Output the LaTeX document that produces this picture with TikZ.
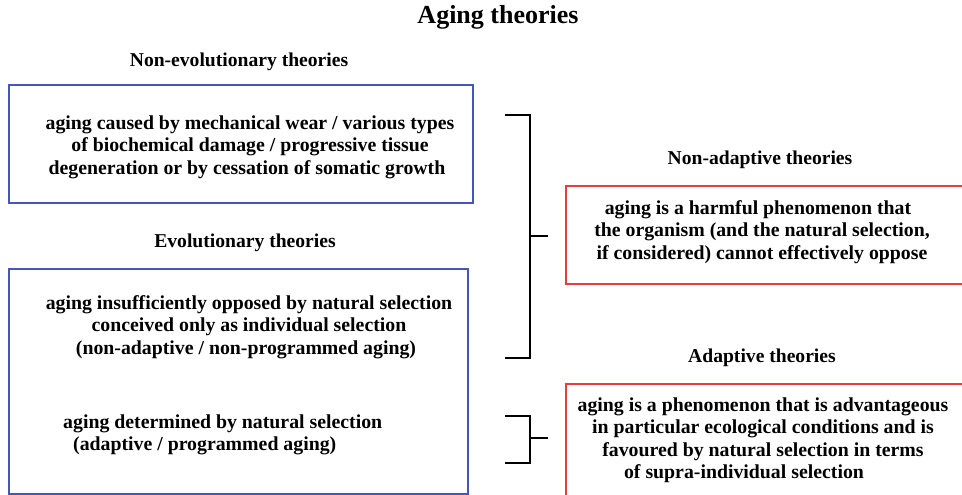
\documentclass[tikz,border=0pt]{standalone}
\usepackage{fontspec}
\setmainfont{Liberation Serif}
\definecolor{boxblue}{RGB}{70,85,190}
\definecolor{boxred}{RGB}{228,62,62}
\begin{document}
\begin{tikzpicture}[x=1pt,y=-1pt,
  body/.style={font=\bfseries\fontsize{19.8}{22.5}\selectfont, align=center, inner sep=0pt},
  head/.style={font=\bfseries\fontsize{19.6}{22.5}\selectfont, inner sep=0pt},
  bluebox/.style={draw=boxblue, line width=1.8pt, anchor=north west, inner sep=0pt},
  redbox/.style={draw=boxred, line width=1.8pt, anchor=north west, inner sep=0pt},
  brk/.style={draw=black, line width=1.8pt}]
\useasboundingbox (0,0) rectangle (962,495);
\clip (0,0) rectangle (962,495);

\node[font=\bfseries\fontsize{26}{30}\selectfont, inner sep=0pt] (title) at (498,17) {Aging theories};

% left column
\node[head] (hnonevo) at (239,62) {Non-evolutionary theories};
\node[bluebox, minimum width=464, minimum height=118] (nonevo) at (8,84) {};
\node[body] (nonevotxt) at (250,147) {aging caused by mechanical wear / various types\\of biochemical damage / progressive tissue\\degeneration or by cessation of somatic growth\hspace*{6pt}};

\node[head] (hevo) at (245,243) {Evolutionary theories};
\node[bluebox, minimum width=459, minimum height=225] (evo) at (8,268) {};
\node[body] (evotxt1) at (249,327) {aging insufficiently opposed by natural selection\\conceived only as individual selection\hspace*{14pt}\\(non-adaptive / non-programmed aging)\hspace*{6pt}};
\node[body, align=left, anchor=west] (evotxt2) at (63,435) {aging determined by natural selection\\\hspace*{10pt}(adaptive / programmed aging)};

% right column
\node[head] (hnonad) at (760,160) {Non-adaptive theories};
\node[redbox, minimum width=440, minimum height=98] (nonad) at (565,185) {};
\node[body] (nonadtxt) at (762,232) {aging is a harmful phenomenon that\hspace*{8pt}\\the organism (and the natural selection,\\if considered) cannot effectively oppose};

\node[head] (had) at (762,358) {Adaptive theories};
\node[redbox, minimum width=440, minimum height=140] (ad) at (565,383) {};
\node[body] (adtxt) at (763,440) {aging is a phenomenon that is advantageous\\in particular ecological conditions and is\hspace*{6pt}\\favoured by natural selection in terms\hspace*{8pt}\\of supra-individual selection\hspace*{38pt}};

% brackets
\coordinate (b1top) at (505,115);
\coordinate (b1bot) at (505,358);
\coordinate (b1tip) at (548,236);
\draw[brk] (b1top) -- ++(25,0) |- (b1bot);
\draw[brk] (b1tip) -- ++(-18,0);

\coordinate (b2top) at (505,416);
\coordinate (b2bot) at (505,463);
\coordinate (b2tip) at (548,438);
\draw[brk] (b2top) -- ++(25,0) |- (b2bot);
\draw[brk] (b2tip) -- ++(-18,0);
\end{tikzpicture}
\end{document}
